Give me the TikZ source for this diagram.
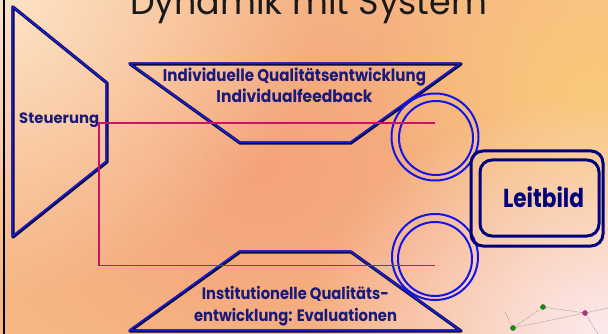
\documentclass[tikz,border=0pt]{standalone}
\usepackage{fontspec}
\usepackage{graphicx}
\setmainfont{Poppins}
\usetikzlibrary{fadings}

\definecolor{bgbase}{HTML}{F8BF88}
\definecolor{bgsalmon}{HTML}{F4A27A}
\definecolor{bgpale}{HTML}{FDE3C6}
\definecolor{bgyellow}{HTML}{F9C97A}
\definecolor{bgpink}{HTML}{FDEAF0}
\definecolor{labelblue}{HTML}{1A1A7A}
\definecolor{edgeblack}{HTML}{0A0A3A}
\definecolor{edgeblue}{HTML}{1A1AD8}
\definecolor{ringblue}{HTML}{1414E6}
\definecolor{framenavy}{HTML}{00007A}
\definecolor{crimson}{HTML}{CC1166}

\tikzfading[name=softblob, inner color=transparent!0, outer color=transparent!100]
\newcommand{\fitw}[2]{\resizebox{#1}{\height}{#2}}

\begin{document}
\begin{tikzpicture}[x=1pt,y=-1pt,
  lbl/.style={text=labelblue,font=\bfseries,inner sep=0pt,anchor=base},
  trapedge/.style={draw=edgeblack,line width=3.2pt,line join=round},
  trapglint/.style={draw=edgeblue,line width=1.6pt,line join=round,shift={(-0.8,-0.8)}},
  ring/.style={draw=ringblue,line width=2pt,circle,inner sep=0pt},
  frame/.style={draw=framenavy,line width=3pt,rounded corners=12pt,inner sep=0pt},
  netline/.style={draw=gray!75,line width=0.6pt,dash pattern=on 1.5pt off 1pt},
  netdot/.style={circle,draw=gray!60!black,line width=0.4pt,inner sep=0pt,minimum size=5pt,fill=#1}]
  \useasboundingbox (0,0) rectangle (608,334);

  % background
  \fill[bgbase] (0,0) rectangle (608,334);
  \begin{scope}
    \clip (0,0) rectangle (608,334);
    \fill[bgsalmon,path fading=softblob] (260,170) ellipse (420 and 340);
    \fill[bgyellow,path fading=softblob] (590,90) ellipse (220 and 200);
    \fill[bgpale,path fading=softblob] (0,0) ellipse (320 and 300);
    \fill[bgpink,path fading=softblob] (608,334) ellipse (300 and 240);
  \end{scope}
  \draw[black,line width=2pt] (3.5,0) -- (3.5,334);

  % title
  \node[anchor=base west,inner sep=0pt,text=black!90,font=\fontsize{36}{40}\selectfont] (title) at (130,15) {\fitw{357pt}{Dynamik mit System}};

  % trapezoids
  \draw[trapedge] (13,7) -- (107,83) -- (107,162) -- (13,237) -- cycle;
  \draw[trapglint] (13,7) -- (107,83) -- (107,162) -- (13,237) -- cycle;
  \draw[trapedge] (130,64) -- (461,64) -- (351,143) -- (240,143) -- cycle;
  \draw[trapglint] (130,64) -- (461,64) -- (351,143) -- (240,143) -- cycle;
  \draw[trapedge] (240,252) -- (351,252) -- (461,331) -- (130,331) -- cycle;
  \draw[trapglint] (240,252) -- (351,252) -- (461,331) -- (130,331) -- cycle;

  % labels
  \node[lbl,anchor=base west,font=\bfseries\fontsize{15}{18}\selectfont] (steer) at (19,124) {\fitw{80pt}{Steuerung}};
  \node[lbl,font=\bfseries\fontsize{17}{20}\selectfont] (indivA) at (294.5,81.5) {\fitw{263pt}{Individuelle Qualitätsentwicklung}};
  \node[lbl,font=\bfseries\fontsize{17}{20}\selectfont] (indivB) at (294.5,102.7) {\fitw{156pt}{Individualfeedback}};
  \node[lbl,font=\bfseries\fontsize{16.5}{20}\selectfont] (instA) at (295.3,299.3) {\fitw{187pt}{Institutionelle Qualitäts-}};
  \node[lbl,font=\bfseries\fontsize{16.5}{20}\selectfont] (instB) at (295.5,321) {\fitw{203pt}{entwicklung: Evaluationen}};

  % loops
  \node[ring,minimum size=87pt] (loopA) at (435,137) {};
  \node[ring,minimum size=74pt] (loopAin) at (436,138) {};
  \node[ring,minimum size=86pt] (loopB) at (435,257) {};
  \node[ring,minimum size=74pt] (loopBin) at (435,259) {};

  % Leitbild
  \node[frame,minimum width=132pt,minimum height=95pt] (leitOut) at (537,198.5) {};
  \node[frame,minimum width=119pt,minimum height=76pt] (leitIn) at (539.5,198) {};
  \node[lbl,text=framenavy,font=\bfseries\fontsize{26}{30}\selectfont] (leit) at (543.5,207.7) {\fitw{81pt}{Leitbild}};

  % feedback line
  \coordinate (knot) at (99,123);
  \coordinate (endA) at (435,123);
  \coordinate (endB) at (435,265.5);
  \draw[crimson,line width=1.4pt] (endA) -- (knot) |- (endB);

  % network corner
  \node[netdot=green!60!black] (g1) at (543,307) {};
  \node[netdot=green!60!black] (g2) at (513,328) {};
  \node[netdot=magenta!80!black] (m1) at (585,313) {};
  \coordinate (n0) at (505,312);
  \coordinate (n1) at (608,308);
  \coordinate (n2) at (598,334);
  \draw[netline] (n0) -- (g2) -- (g1) -- (m1) -- (n1);
  \draw[netline] (g2) -- (m1) -- (n2);
\end{tikzpicture}
\end{document}
